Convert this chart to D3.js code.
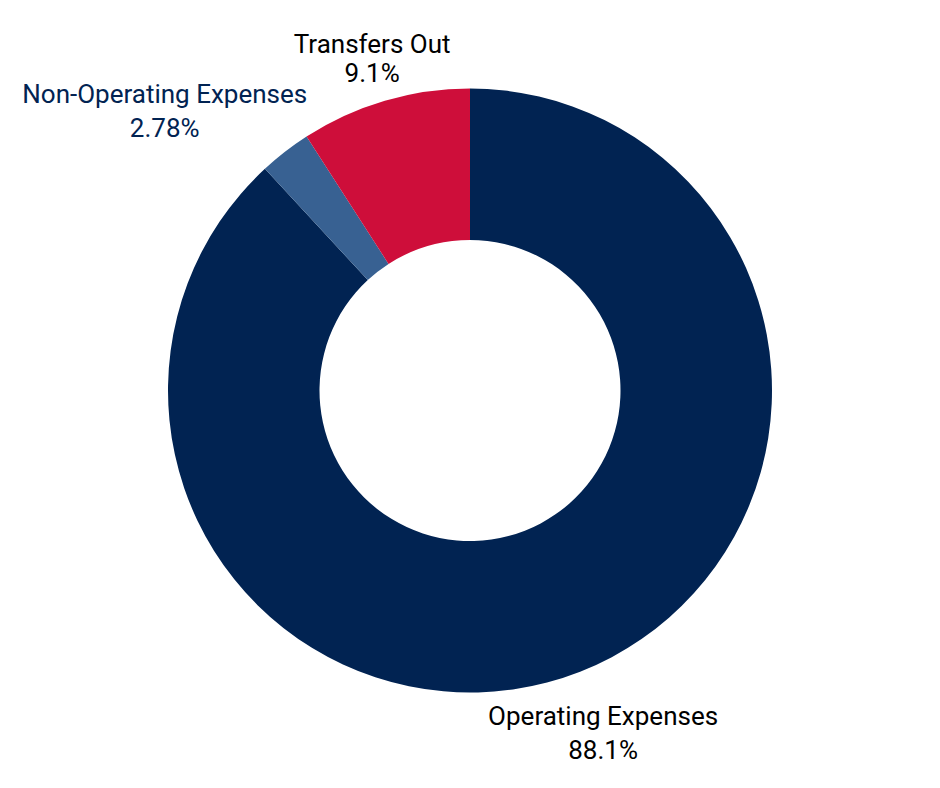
<!DOCTYPE html>
<html>
<head>
<meta charset="utf-8">
<script src="https://cdn.jsdelivr.net/npm/d3@7"></script>
<style>
  html, body { margin: 0; padding: 0; background: #fff; }
  svg text { font-family: Roboto, "Noto Sans", sans-serif; }
</style>
</head>
<body>
<div class="chart"></div>
<script>
(function(){

  // chart data
  var categories = ['Operating Expenses', 'Non-Operating Expenses', 'Transfers Out'];
  var shares = [88.1, 2.78, 9.1];
  var shareLabels = ['88.1%', '2.78%', '9.1%'];
  var colors = ['#012352', '#386192', '#ce0e3a'];
  var labelColors = ['#000000', '#012352', '#000000'];

  var width = 940,
    height = 788;

  var cfg = {
    'cx': 470,
    'cy': 390.5,
    'outer': 302,
    'inner': 150.5,
    'labelR': [365, 358, 347],
    'nudgeX': [0, -86, 0],
    'lineGap': [34, 34, 29],
    'fontSize': 26
  };

  var svg = d3.select('.chart')
    .append('svg')
    .attr('width', width)
    .attr('height', height);

  var rows = categories.map(function(c, i){
    return { name: c, value: shares[i], text: shareLabels[i], color: colors[i], labelColor: labelColors[i], i: i };
  });

  var pie = d3.pie()
    .sort(null)
    .value(function(d){ return d.value; });

  var arc = d3.arc()
    .innerRadius(cfg.inner)
    .outerRadius(cfg.outer);

  var g = svg.append('g')
    .attr('transform', 'translate(' + cfg.cx + ',' + cfg.cy + ')');

  var slices = pie(rows);

  g.selectAll('path')
    .data(slices)
    .enter().append('path')
    .attr('d', arc)
    .attr('fill', function(d){ return d.data.color; });

  var labels = g.selectAll('text.lbl')
    .data(slices)
    .enter().append('text')
    .attr('class', 'lbl')
    .attr('text-anchor', 'middle')
    .attr('font-size', cfg.fontSize)
    .attr('fill', function(d){ return d.data.labelColor; })
    .attr('transform', function(d){
      var a = (d.startAngle + d.endAngle) / 2,
        r = cfg.labelR[d.data.i];
      // small slices get pushed sideways so the labels don't collide
      var x = r * Math.sin(a) + cfg.nudgeX[d.data.i],
        y = -r * Math.cos(a);
      return 'translate(' + x + ',' + y + ')';
    });

  labels.append('tspan')
    .attr('x', 0)
    .attr('y', -5)
    .text(function(d){ return d.data.name; });

  labels.append('tspan')
    .attr('x', 0)
    .attr('y', function(d){ return -5 + cfg.lineGap[d.data.i]; })
    .text(function(d){ return d.data.text; });

}());
</script>
</body>
</html>
